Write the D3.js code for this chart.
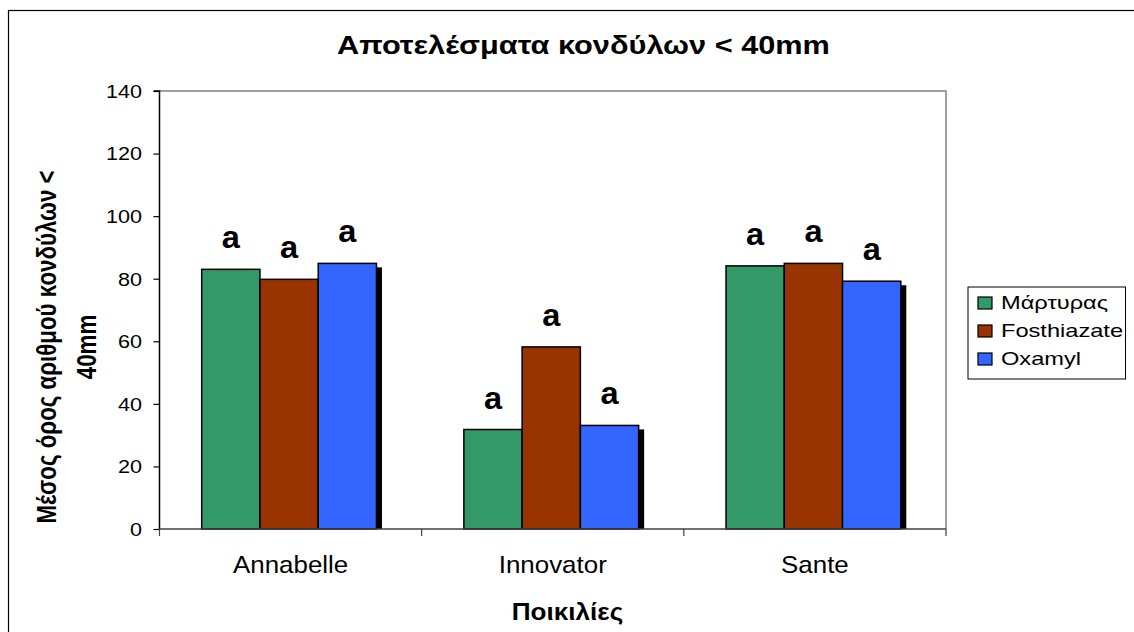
<!DOCTYPE html>
<html>
<head>
<meta charset="utf-8">
<script src="https://cdn.jsdelivr.net/npm/d3@7"></script>
<style>
  html, body { margin: 0; padding: 0; background: #fff; }
  svg { display: block; font-family: "Liberation Sans", Arial, sans-serif; }
</style>
</head>
<body>
<svg id="chart" width="1134" height="632"></svg>
<script>
const categories = ["Annabelle", "Innovator", "Sante"];
const seriesNames = ["Μάρτυρας", "Fosthiazate", "Oxamyl"];
const martyras = [83.0, 31.8, 84.1];
const fosthiazate = [79.8, 58.2, 84.9];
const oxamyl = [84.9, 33.1, 79.2];
const significance = [["a", "a", "a"], ["a", "a", "a"], ["a", "a", "a"]];
const yTicks = [0, 20, 40, 60, 80, 100, 120, 140];
const colors = ["#339966", "#993300", "#3366FF"];

const titleText = "Αποτελέσματα κονδύλων < 40mm";
const yTitleLines = ["Μέσος όρος αριθμού κονδύλων <", "40mm"];
const xTitleText = "Ποικιλίες";

const seriesValues = [martyras, fosthiazate, oxamyl];
const data = categories.map((c, i) => ({
  cat: c,
  vals: seriesNames.map((s, j) => ({ s, j, v: seriesValues[j][i], lab: significance[i][j] }))
}));

const svg = d3.select("#chart");
const plot = { left: 159.5, right: 946, top: 91, bottom: 529 };

// outer border
svg.append("rect").attr("x", 8.5).attr("y", 10.5).attr("width", 1140).attr("height", 640)
  .attr("fill", "none").attr("stroke", "#000").attr("stroke-width", 1.2);

const x0 = d3.scaleBand().domain(categories).range([plot.left, plot.right]).paddingInner(0).paddingOuter(0);
const x1 = d3.scaleBand().domain(seriesNames).range([0, x0.bandwidth()]).paddingInner(0).paddingOuter(0.75);
const y = d3.scaleLinear().domain([0, 140]).range([plot.bottom, plot.top]);

// plot frame (top/right grey)
svg.append("path")
  .attr("d", `M${plot.left},${plot.top}H${plot.right}V${plot.bottom}`)
  .attr("fill", "none").attr("stroke", "#808080").attr("stroke-width", 1.5);

// bars
const groups = svg.append("g").selectAll("g").data(data).join("g")
  .attr("transform", d => `translate(${x0(d.cat) - 1.5},0)`);

// shadow for last series
groups.selectAll("rect.shadow").data(d => d.vals.filter(v => v.j === 2)).join("rect")
  .attr("class", "shadow")
  .attr("x", d => x1(d.s) + 5.5)
  .attr("y", d => y(d.v) + 4)
  .attr("width", x1.bandwidth())
  .attr("height", d => plot.bottom - y(d.v) - 4)
  .attr("fill", "#000");

groups.selectAll("rect.bar").data(d => d.vals).join("rect")
  .attr("class", "bar")
  .attr("x", d => x1(d.s))
  .attr("y", d => y(d.v))
  .attr("width", x1.bandwidth())
  .attr("height", d => plot.bottom - y(d.v))
  .attr("fill", d => colors[d.j])
  .attr("stroke", "#000").attr("stroke-width", 1.5);

groups.selectAll("text.lab").data(d => d.vals).join("text")
  .attr("class", "lab")
  .attr("transform", d => `translate(${x1(d.s) + x1.bandwidth() / 2},${y(d.v) - 21}) scale(1.05,1)`)
  .attr("text-anchor", "middle")
  .attr("font-size", 31).attr("font-weight", "bold")
  .text(d => d.lab);

// y axis
const yAxis = d3.axisLeft(y).tickValues(yTicks).tickSize(6).tickPadding(0);
const gy = svg.append("g").attr("transform", `translate(${plot.left},0)`).call(yAxis);
gy.select(".domain").attr("stroke", "#000").attr("stroke-width", 1.5).attr("d", `M-6,${plot.top}H0V${plot.bottom}`);
gy.selectAll(".tick line").attr("stroke", "#000").attr("stroke-width", 1.2);
gy.selectAll(".tick text").attr("font-size", 18).attr("fill", "#000")
  .attr("font-family", "Liberation Sans, Arial, sans-serif")
  .attr("x", 0).attr("dy", "0.35em")
  .attr("transform", "translate(-17.5,0) scale(1.2,1)");

// x axis
const xAxis = d3.axisBottom(x0).tickSize(0).tickPadding(0);
const gx = svg.append("g").attr("transform", `translate(0,${plot.bottom})`).call(xAxis);
gx.select(".domain").attr("stroke", "#404040").attr("stroke-width", 1.5).attr("d", `M${plot.left},0H${plot.right}`);
gx.selectAll(".tick text").attr("font-size", 24).attr("fill", "#000").attr("y", 0).attr("dy", 0)
  .attr("font-family", "Liberation Sans, Arial, sans-serif")
  .attr("transform", "translate(0,44.3) scale(1.08,1)");
// category boundary ticks
const bounds = categories.map(c => x0(c)).concat([plot.right]);
svg.append("g").selectAll("line").data(bounds).join("line")
  .attr("x1", d => d).attr("x2", d => d)
  .attr("y1", plot.bottom).attr("y2", plot.bottom + 7)
  .attr("stroke", "#404040").attr("stroke-width", 1.2);

// title
svg.append("text").attr("transform", "translate(583.5,53.5) scale(1.2,1)").attr("text-anchor", "middle")
  .attr("font-size", 25.6).attr("font-weight", "bold").text(titleText);

// x title
svg.append("text").attr("transform", "translate(567.5,620) scale(1.1,1)").attr("text-anchor", "middle")
  .attr("font-size", 23.7).attr("font-weight", "bold").text(xTitleText);

// y title
const yt = svg.append("text").attr("transform", "translate(0,347) rotate(-90) scale(1,1.2)")
  .attr("text-anchor", "middle").attr("font-size", 22.3).attr("font-weight", "bold");
yt.selectAll("tspan").data(yTitleLines).join("tspan")
  .attr("x", 0).attr("y", (d, i) => i === 0 ? 46.7 : 80).text(d => d);

// legend
const lg = svg.append("g");
lg.append("rect").attr("x", 968).attr("y", 287).attr("width", 157.5).attr("height", 92)
  .attr("fill", "#fff").attr("stroke", "#000").attr("stroke-width", 1);
const items = lg.selectAll("g.item").data(seriesNames).join("g").attr("class", "item")
  .attr("transform", (d, i) => `translate(978,${303 + i * 28})`);
items.append("rect").attr("x", 0).attr("y", -6).attr("width", 14).attr("height", 12)
  .attr("fill", (d, i) => colors[i]).attr("stroke", "#000").attr("stroke-width", 1.2);
items.append("text").attr("transform", "translate(23,5.5) scale(1.27,1)")
  .attr("font-size", 18.6).text(d => d);
</script>
</body>
</html>
